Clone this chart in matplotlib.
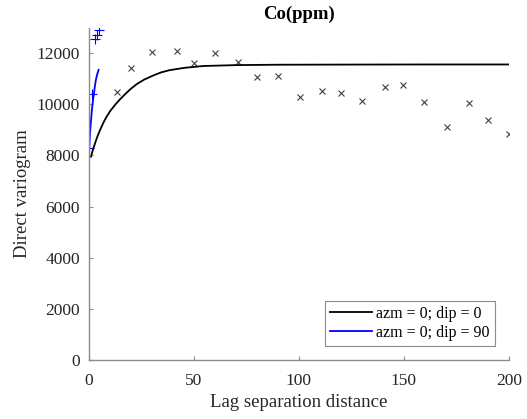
import matplotlib
matplotlib.use('Agg')
import matplotlib.pyplot as plt

# experimental variogram points, azm = 0; dip = 0
lag_h = [13.5, 20.2, 30.2, 41.9, 50.2, 60.0, 71.0, 80.0, 89.9, 100.7,
         111.1, 119.9, 130.0, 141.1, 149.7, 159.4, 170.5, 181.0, 190.2, 200.0]
gam_h = [10500, 11410, 12060, 12070, 11610, 12020, 11650, 11070, 11090, 10290,
         10540, 10440, 10130, 10690, 10750, 10090, 9110, 10040, 9380, 8840]

# experimental points, azm = 0; dip = 90
lag_v = [0.3, 1.6, 2.9, 3.9, 5.0]
gam_v = [8300, 10410, 12540, 12720, 12890]

# fitted model curves
mod_h_x = [1.2, 2.0, 3.1, 4.2, 5.5, 7.0, 8.6, 10.5, 12.6, 15.0, 17.4, 20.0, 22.9, 26.5,
           30.8, 34.5, 38.7, 45.8, 54.6, 70, 90, 120, 160, 200]
mod_h_y = [7955, 8200, 8480, 8740, 9000, 9270, 9520, 9760, 9980, 10200, 10400, 10600,
           10790, 10970, 11130, 11250, 11340, 11430, 11500, 11535, 11550, 11555, 11560, 11560]
mod_v_x = [0.0, 0.3, 0.7, 1.2, 1.6, 2.1, 2.6, 3.0, 3.5, 4.1, 4.8]
mod_v_y = [7700, 8250, 8870, 9400, 9780, 10150, 10440, 10700, 10960, 11170, 11350]

plt.rcParams['font.family'] = 'Liberation Serif'

fig = plt.figure(figsize=(5.27, 4.19), dpi=100)
ax = fig.add_axes([0.168, 0.1408, 0.798, 0.7932])

ax.plot(lag_h, gam_h, 'x', color='#404040', markersize=5, markeredgewidth=0.8)
ax.plot(lag_v, gam_v, '+', color='blue', markersize=7, markeredgewidth=0.8)
ax.plot(mod_h_x, mod_h_y, '-', color='black', linewidth=1.3, label='azm = 0; dip = 0')
ax.plot(mod_v_x, mod_v_y, '-', color='blue', linewidth=1.3, label='azm = 0; dip = 90')

ax.set_xlim(0, 200)
ax.set_ylim(0, 13000)
ax.set_xticks([0, 50, 100, 150, 200])
ax.set_yticks(range(0, 12001, 2000))

for s in ['top', 'right']:
    ax.spines[s].set_visible(False)
for s in ['left', 'bottom']:
    ax.spines[s].set_color('#8c8c8c')
    ax.spines[s].set_linewidth(1.0)
ax.tick_params(direction='in', length=3, color='#8c8c8c', labelsize=12.5,
               labelcolor='#262626')
ax.tick_params(axis='x', pad=9)
ax.tick_params(axis='y', pad=6)

ax.set_title('Co(ppm)', fontsize=13.5, fontweight='bold', pad=6)
ax.set_xlabel('Lag separation distance', fontsize=13.5, color='#262626', labelpad=4)
ax.set_ylabel('Direct variogram', fontsize=13.5, color='#262626', labelpad=4)

leg = ax.legend(loc='lower right', fontsize=11.5, fancybox=False, framealpha=1,
                edgecolor='#8c8c8c', handlelength=2.6, handletextpad=0.3,
                borderaxespad=0.9, borderpad=0.3, labelspacing=0.2)
leg.get_frame().set_linewidth(0.8)

plt.savefig('out.png', dpi=100)
